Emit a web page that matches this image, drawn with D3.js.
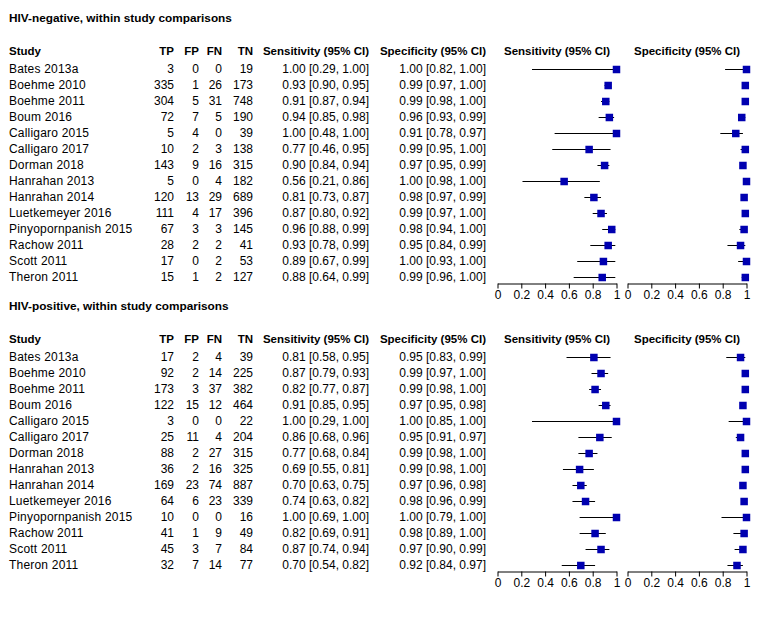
<!DOCTYPE html>
<html>
<head>
<meta charset="utf-8">
<script src="https://cdn.jsdelivr.net/npm/d3@7"></script>
<style>
  body { margin: 0; background: #fff; }
  svg text { font-family: "Liberation Sans", Arial, sans-serif; fill: #000; }
</style>
</head>
<body>
<div id="my_dataviz"></div>
<script>
var studies = ["Bates 2013a", "Boehme 2010", "Boehme 2011", "Boum 2016", "Calligaro 2015",
  "Calligaro 2017", "Dorman 2018", "Hanrahan 2013", "Hanrahan 2014", "Luetkemeyer 2016",
  "Pinyopornpanish 2015", "Rachow 2011", "Scott 2011", "Theron 2011"];

// HIV-negative
var neg_TP = [3, 335, 304, 72, 5, 10, 143, 5, 120, 111, 67, 28, 17, 15],
    neg_FP = [0, 1, 5, 7, 4, 2, 9, 0, 13, 4, 3, 2, 0, 1],
    neg_FN = [0, 26, 31, 5, 0, 3, 16, 4, 29, 17, 3, 2, 2, 2],
    neg_TN = [19, 173, 748, 190, 39, 138, 315, 182, 689, 396, 145, 41, 53, 127],
    neg_sens = [1.00, 0.93, 0.91, 0.94, 1.00, 0.77, 0.90, 0.56, 0.81, 0.87, 0.96, 0.93, 0.89, 0.88],
    neg_sensLo = [0.29, 0.90, 0.87, 0.85, 0.48, 0.46, 0.84, 0.21, 0.73, 0.80, 0.88, 0.78, 0.67, 0.64],
    neg_sensHi = [1.00, 0.95, 0.94, 0.98, 1.00, 0.95, 0.94, 0.86, 0.87, 0.92, 0.99, 0.99, 0.99, 0.99],
    neg_spec = [1.00, 0.99, 0.99, 0.96, 0.91, 0.99, 0.97, 1.00, 0.98, 0.99, 0.98, 0.95, 1.00, 0.99],
    neg_specLo = [0.82, 0.97, 0.98, 0.93, 0.78, 0.95, 0.95, 0.98, 0.97, 0.97, 0.94, 0.84, 0.93, 0.96],
    neg_specHi = [1.00, 1.00, 1.00, 0.99, 0.97, 1.00, 0.99, 1.00, 0.99, 1.00, 1.00, 0.99, 1.00, 1.00];

// HIV-positive
var pos_TP = [17, 92, 173, 122, 3, 25, 88, 36, 169, 64, 10, 41, 45, 32],
    pos_FP = [2, 2, 3, 15, 0, 11, 2, 2, 23, 6, 0, 1, 3, 7],
    pos_FN = [4, 14, 37, 12, 0, 4, 27, 16, 74, 23, 0, 9, 7, 14],
    pos_TN = [39, 225, 382, 464, 22, 204, 315, 325, 887, 339, 16, 49, 84, 77],
    pos_sens = [0.81, 0.87, 0.82, 0.91, 1.00, 0.86, 0.77, 0.69, 0.70, 0.74, 1.00, 0.82, 0.87, 0.70],
    pos_sensLo = [0.58, 0.79, 0.77, 0.85, 0.29, 0.68, 0.68, 0.55, 0.63, 0.63, 0.69, 0.69, 0.74, 0.54],
    pos_sensHi = [0.95, 0.93, 0.87, 0.95, 1.00, 0.96, 0.84, 0.81, 0.75, 0.82, 1.00, 0.91, 0.94, 0.82],
    pos_spec = [0.95, 0.99, 0.99, 0.97, 1.00, 0.95, 0.99, 0.99, 0.97, 0.98, 1.00, 0.98, 0.97, 0.92],
    pos_specLo = [0.83, 0.97, 0.98, 0.95, 0.85, 0.91, 0.98, 0.98, 0.96, 0.96, 0.79, 0.89, 0.90, 0.84],
    pos_specHi = [0.99, 1.00, 1.00, 0.98, 1.00, 0.97, 1.00, 1.00, 0.98, 0.99, 1.00, 1.00, 0.99, 0.97];

var tickVals = [0, 0.2, 0.4, 0.6, 0.8, 1],
    tickLabels = ["0", "0.2", "0.4", "0.6", "0.8", "1"];

var panels = [
  { title: "HIV-negative, within study comparisons", top: 0,
    TP: neg_TP, FP: neg_FP, FN: neg_FN, TN: neg_TN,
    sens: neg_sens, sensLo: neg_sensLo, sensHi: neg_sensHi,
    spec: neg_spec, specLo: neg_specLo, specHi: neg_specHi },
  { title: "HIV-positive, within study comparisons", top: 288,
    TP: pos_TP, FP: pos_FP, FN: pos_FN, TN: pos_TN,
    sens: pos_sens, sensLo: pos_sensLo, sensHi: pos_sensHi,
    spec: pos_spec, specLo: pos_specLo, specHi: pos_specHi }
];

var width = 757, height = 628;
var fs = 12, blue = "#0000b0", sq = 7.5;
var f2 = d3.format(".2f");
var ci = function (m, lo, hi) { return f2(m) + " [" + f2(lo) + ", " + f2(hi) + "]"; };

var svg = d3.select("#my_dataviz")
  .append("svg")
  .attr("width", width)
  .attr("height", height);

// scales for the two small forest plots
var xSens = d3.scaleLinear().domain([0, 1]).range([497.5, 616.5]);
var xSpec = d3.scaleLinear().domain([0, 1]).range([627.5, 746.5]);

// row positions (text centre)
var y = d3.scalePoint().domain(d3.range(studies.length)).range([69, 277]);

panels.forEach(function (p) {
  var g = svg.append("g").attr("transform", "translate(0," + p.top + ")");

  g.append("text")
    .attr("x", 9).attr("y", 18).attr("dy", "0.35em")
    .style("font-size", "11.8px").style("font-weight", "bold")
    .text(p.title);

  // header
  var head = [
    { t: "Study", x: 9, a: "start" },
    { t: "TP", x: 174, a: "end" },
    { t: "FP", x: 199, a: "end" },
    { t: "FN", x: 222, a: "end" },
    { t: "TN", x: 253, a: "end" },
    { t: "Sensitivity (95% CI)", x: 369, a: "end" },
    { t: "Specificity (95% CI)", x: 486, a: "end" },
    { t: "Sensitivity (95% CI)", x: 504, a: "start" },
    { t: "Specificity (95% CI)", x: 634, a: "start" }
  ];
  g.selectAll("text.head")
    .data(head)
    .enter()
    .append("text")
    .attr("class", "head")
    .attr("x", function (d) { return d.x; })
    .attr("y", 51).attr("dy", "0.35em")
    .attr("text-anchor", function (d) { return d.a; })
    .style("font-size", "11.5px").style("font-weight", "bold")
    .text(function (d) { return d.t; });

  // table columns
  var cols = [
    { x: 9, a: "start", ls: 0.2, v: function (i) { return studies[i]; } },
    { x: 174, a: "end", ls: 0, v: function (i) { return p.TP[i]; } },
    { x: 199, a: "end", ls: 0, v: function (i) { return p.FP[i]; } },
    { x: 222, a: "end", ls: 0, v: function (i) { return p.FN[i]; } },
    { x: 253, a: "end", ls: 0, v: function (i) { return p.TN[i]; } },
    { x: 369, a: "end", ls: 0, v: function (i) { return ci(p.sens[i], p.sensLo[i], p.sensHi[i]); } },
    { x: 486, a: "end", ls: 0, v: function (i) { return ci(p.spec[i], p.specLo[i], p.specHi[i]); } }
  ];
  cols.forEach(function (c) {
    g.append("g")
      .selectAll("text")
      .data(studies)
      .enter()
      .append("text")
      .attr("x", c.x)
      .attr("y", function (d, i) { return y(i); })
      .attr("dy", "0.35em")
      .attr("text-anchor", c.a)
      .style("font-size", fs + "px")
      .style("letter-spacing", c.ls + "px")
      .text(function (d, i) { return c.v(i); });
  });

  // forest plots
  var plots = [
    { x: xSens, m: p.sens, lo: p.sensLo, hi: p.sensHi },
    { x: xSpec, m: p.spec, lo: p.specLo, hi: p.specHi }
  ];
  plots.forEach(function (pl) {
    var pg = g.append("g");
    pg.selectAll("line.ci")
      .data(studies)
      .enter()
      .append("line")
      .attr("x1", function (d, i) { return pl.x(pl.lo[i]); })
      .attr("x2", function (d, i) { return pl.x(pl.hi[i]); })
      .attr("y1", function (d, i) { return Math.round(y(i)) + 0.5; })
      .attr("y2", function (d, i) { return Math.round(y(i)) + 0.5; })
      .attr("stroke", "black")
      .attr("stroke-width", 1);
    pg.selectAll("rect")
      .data(studies)
      .enter()
      .append("rect")
      .attr("x", function (d, i) { return pl.x(pl.m[i]) - sq / 2; })
      .attr("y", function (d, i) { return Math.round(y(i)) + 0.5 - sq / 2; })
      .attr("width", sq)
      .attr("height", sq)
      .style("fill", blue);

    var ax = pg.append("g")
      .attr("transform", "translate(0," + 283.5 + ")")
      .call(d3.axisBottom(pl.x).tickValues(tickVals)
        .tickFormat(function (d, i) { return tickLabels[i]; })
        .tickSize(5).tickSizeOuter(0));
    ax.select(".domain").attr("stroke", "black");
    ax.selectAll(".tick line").attr("stroke", "black");
    ax.selectAll(".tick text")
      .attr("y", 7)
      .style("font-size", fs + "px")
      .style("font-family", "'Liberation Sans', Arial, sans-serif");
  });
});
</script>
</body>
</html>
